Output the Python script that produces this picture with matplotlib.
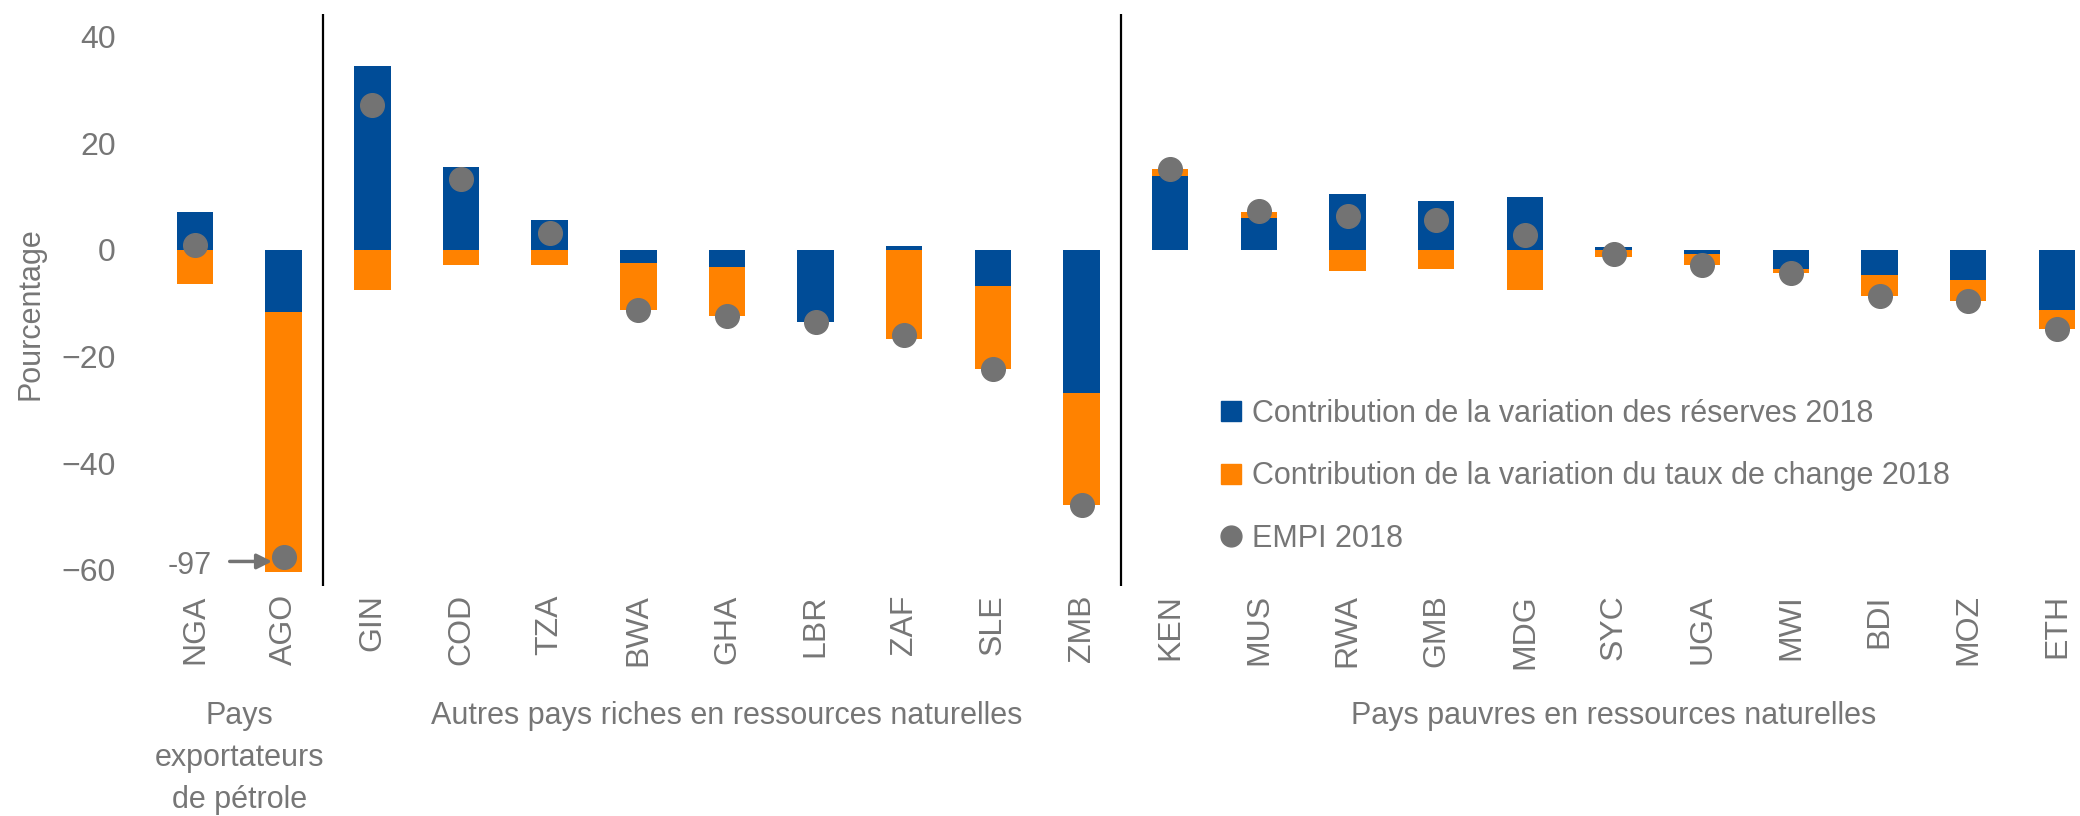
import numpy as np
import matplotlib
matplotlib.use("Agg")
import matplotlib.pyplot as plt
import matplotlib.transforms as mtransforms
from matplotlib.lines import Line2D

plt.rcParams['font.family'] = ['Liberation Sans', 'DejaVu Sans']

# data
countries = ['NGA', 'AGO', 'GIN', 'COD', 'TZA', 'BWA', 'GHA', 'LBR', 'ZAF', 'SLE', 'ZMB',
             'KEN', 'MUS', 'RWA', 'GMB', 'MDG', 'SYC', 'UGA', 'MWI', 'BDI', 'MOZ', 'ETH']
reserves = [7.1, -11.6, 34.4, 15.6, 5.6, -2.4, -3.2, -13.6, 0.8, -6.7, -26.8,
            13.9, 5.9, 10.4, 9.2, 9.9, 0.45, -0.75, -3.6, -4.8, -5.6, -11.2]
exchange = [-6.4, -48.8, -7.6, -2.8, -2.8, -8.8, -9.2, 0.0, -16.8, -15.7, -21.1,
            1.3, 1.2, -4.0, -3.6, -7.6, -1.25, -2.05, -0.8, -3.9, -4.0, -3.6]
empi = [0.9, -57.6, 27.2, 13.3, 3.2, -11.2, -12.4, -13.6, -15.9, -22.4, -47.9,
        15.2, 7.2, 6.4, 5.6, 2.8, -0.75, -2.75, -4.4, -8.7, -9.6, -14.8]
groups = ['Pays\nexportateurs\nde pétrole',
          'Autres pays riches en ressources naturelles',
          'Pays pauvres en ressources naturelles']
group_sizes = [2, 9, 11]
ago_label = '-97'

blue = '#004C97'
orange = '#FF8200'
grey = '#737373'
txt = '#767676'
fs = 22

x = np.arange(len(countries))
res = np.array(reserves)
exc = np.array(exchange)
# positives stack up, negatives stack down
exc_bottom = np.where(np.sign(exc) == np.sign(res), res, 0.0)

fig = plt.figure(figsize=(20.8, 8.16), dpi=100)
ax = fig.add_axes([120 / 2080, 230 / 816, 1960 / 2080, 572 / 816])

w = 0.41
ax.bar(x, res, w, color=blue, zorder=2)
ax.bar(x, exc, w, bottom=exc_bottom, color=orange, zorder=2)
ax.scatter(x, empi, s=290, color=grey, zorder=3)

# group separators
bounds = np.cumsum(group_sizes)[:-1] - 0.5 - 0.06
for b in bounds:
    ax.axvline(b, color='black', lw=1.6, zorder=1)

# truncated AGO value
i_ago = countries.index('AGO')
ax.annotate('', xy=(i_ago - 0.1, empi[i_ago] - 0.8), xytext=(i_ago - 0.64, empi[i_ago] - 0.8),
            arrowprops=dict(arrowstyle='-|>,head_length=0.9,head_width=0.45', color=grey, lw=2.5))
ax.text(i_ago - 0.81, empi[i_ago] - 1.6, ago_label, ha='right', va='center', fontsize=fs, color=txt)

ax.set_xlim(-0.846, 21.26)
ax.set_ylim(-63, 44.2)
ax.set_yticks([-60, -40, -20, 0, 20, 40])
ax.set_xticks(x)
ax.set_xticklabels(countries, rotation=90, va='top', ha='center')
ax.tick_params(axis='x', length=0, pad=6, labelsize=fs + 1, labelcolor=txt)
ax.tick_params(axis='y', length=0, pad=3, labelsize=fs + 1, labelcolor=txt)
for s in ax.spines.values():
    s.set_visible(False)

ax.set_ylabel('Pourcentage', fontsize=fs, color=txt, va='center')
ax.yaxis.set_label_coords(-0.0459, 0.4755)

# group labels below the ticks
tr = mtransforms.blended_transform_factory(ax.transData, fig.transFigure)
start = 0
for g, n in zip(groups, group_sizes):
    cx = start + (n - 1) / 2
    if '\n' in g:
        ax.text(cx, 1 - 701 / 816, g, transform=tr, ha='center', va='top',
                fontsize=fs, color=txt, linespacing=1.52)
    else:
        ax.text(cx, 1 - 716 / 816, g, transform=tr, ha='center', va='center',
                fontsize=fs, color=txt)
    start += n

handles = [Line2D([], [], marker='s', ls='none', color=blue, markersize=14),
           Line2D([], [], marker='s', ls='none', color=orange, markersize=14),
           Line2D([], [], marker='o', ls='none', color=grey, markersize=15)]
labels = ['Contribution de la variation des réserves 2018',
          'Contribution de la variation du taux de change 2018',
          'EMPI 2018']
leg = ax.legend(handles, labels, loc='upper left', bbox_to_anchor=(1222 / 2080, 1 - 399 / 816),
                bbox_transform=fig.transFigure, frameon=False, fontsize=fs,
                handlelength=0.6, handletextpad=0.38, labelspacing=1.06, borderpad=0,
                borderaxespad=0)
for t in leg.get_texts():
    t.set_color(txt)

fig.savefig('out.png', dpi=100)
